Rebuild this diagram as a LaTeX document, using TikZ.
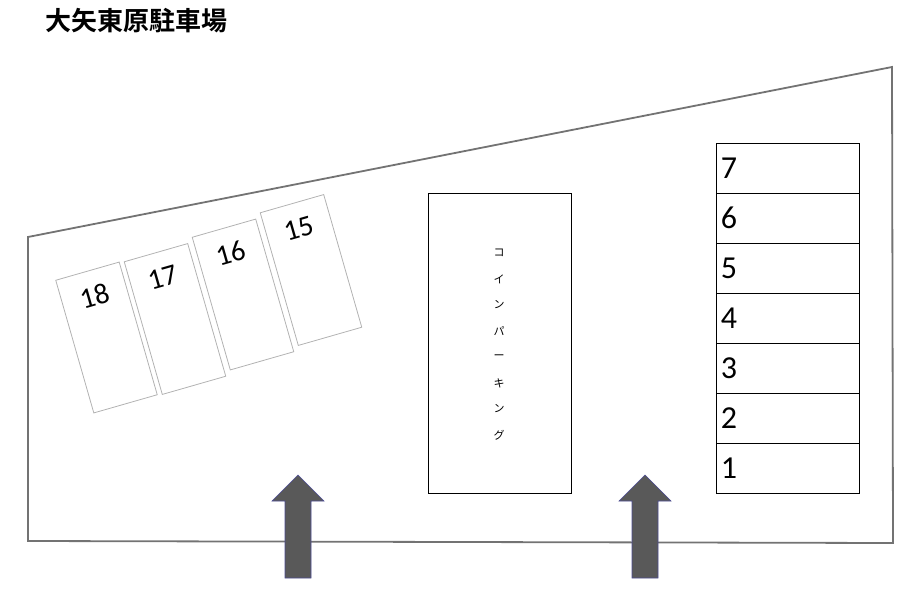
\documentclass[tikz,border=0pt]{standalone}
\usepackage{fontspec}
\usetikzlibrary{calc}
\setmainfont{Carlito}
\newfontfamily\cjk{Noto Sans CJK JP}
\newfontfamily\cjkb{Noto Sans CJK JP Bold}
\begin{document}
\begin{tikzpicture}[x=1pt,y=-1pt,
  slot/.style={draw=black!30,line width=0.8pt,minimum width=66pt,minimum height=138pt,inner sep=0pt},
  num/.style={font=\fontsize{29}{29}\selectfont,inner sep=0pt},
  rnum/.style={font=\fontsize{32}{32}\selectfont,inner sep=0pt},
  rbox/.style={draw=black,line width=0.8pt,minimum width=143pt,minimum height=50pt,inner sep=0pt},
  kana/.style={font=\cjk\fontsize{11}{11}\selectfont,inner sep=0pt},
  bigarrow/.style={fill=black!65,draw=blue!40!black!70,line width=0.6pt}]
\useasboundingbox (0,0) rectangle (916,589);
\node[anchor=west,font=\cjkb\fontsize{26}{26}\selectfont,inner sep=0pt] (title) at (45,21) {大矢東原駐車場};
\draw[black!55,line width=1.8pt] (28,237) -- (892,67) -- (893,543) -- (28,541) -- cycle;
\foreach \n/\x/\y in {18/106.5/337.5,17/175/319,16/243/294.5,15/311/270}{
  \node[slot,rotate=16] (s\n) at (\x,\y) {};
  \node[num,rotate=16] (t\n) at ($(s\n.center)!0.62!(s\n.north)$) {\n};
}
\node[draw=black,line width=0.8pt,minimum width=143pt,minimum height=300pt,inner sep=0pt] (coin) at (499.5,343) {};
\foreach \c [count=\i] in {コ,イ,ン,パ,ー,キ,ン,グ}{
  \node[kana] (k\i) at (499,{227+26*\i}) {\c};
}
\foreach \n in {1,...,7}{
  \node[rbox] (r\n) at (787.5,{493-25-50*(\n-1)}) {};
  \node[rnum,anchor=west] (rn\n) at ([xshift=5pt]r\n.west) {\n};
}
\foreach \cx [count=\i] in {298,645}{
  \draw[bigarrow] (\cx-13,578) -- (\cx-13,501) -- (\cx-26,501) -- (\cx,475) -- (\cx+26,501) -- (\cx+13,501) -- (\cx+13,578) -- cycle;
}
\end{tikzpicture}
\end{document}
